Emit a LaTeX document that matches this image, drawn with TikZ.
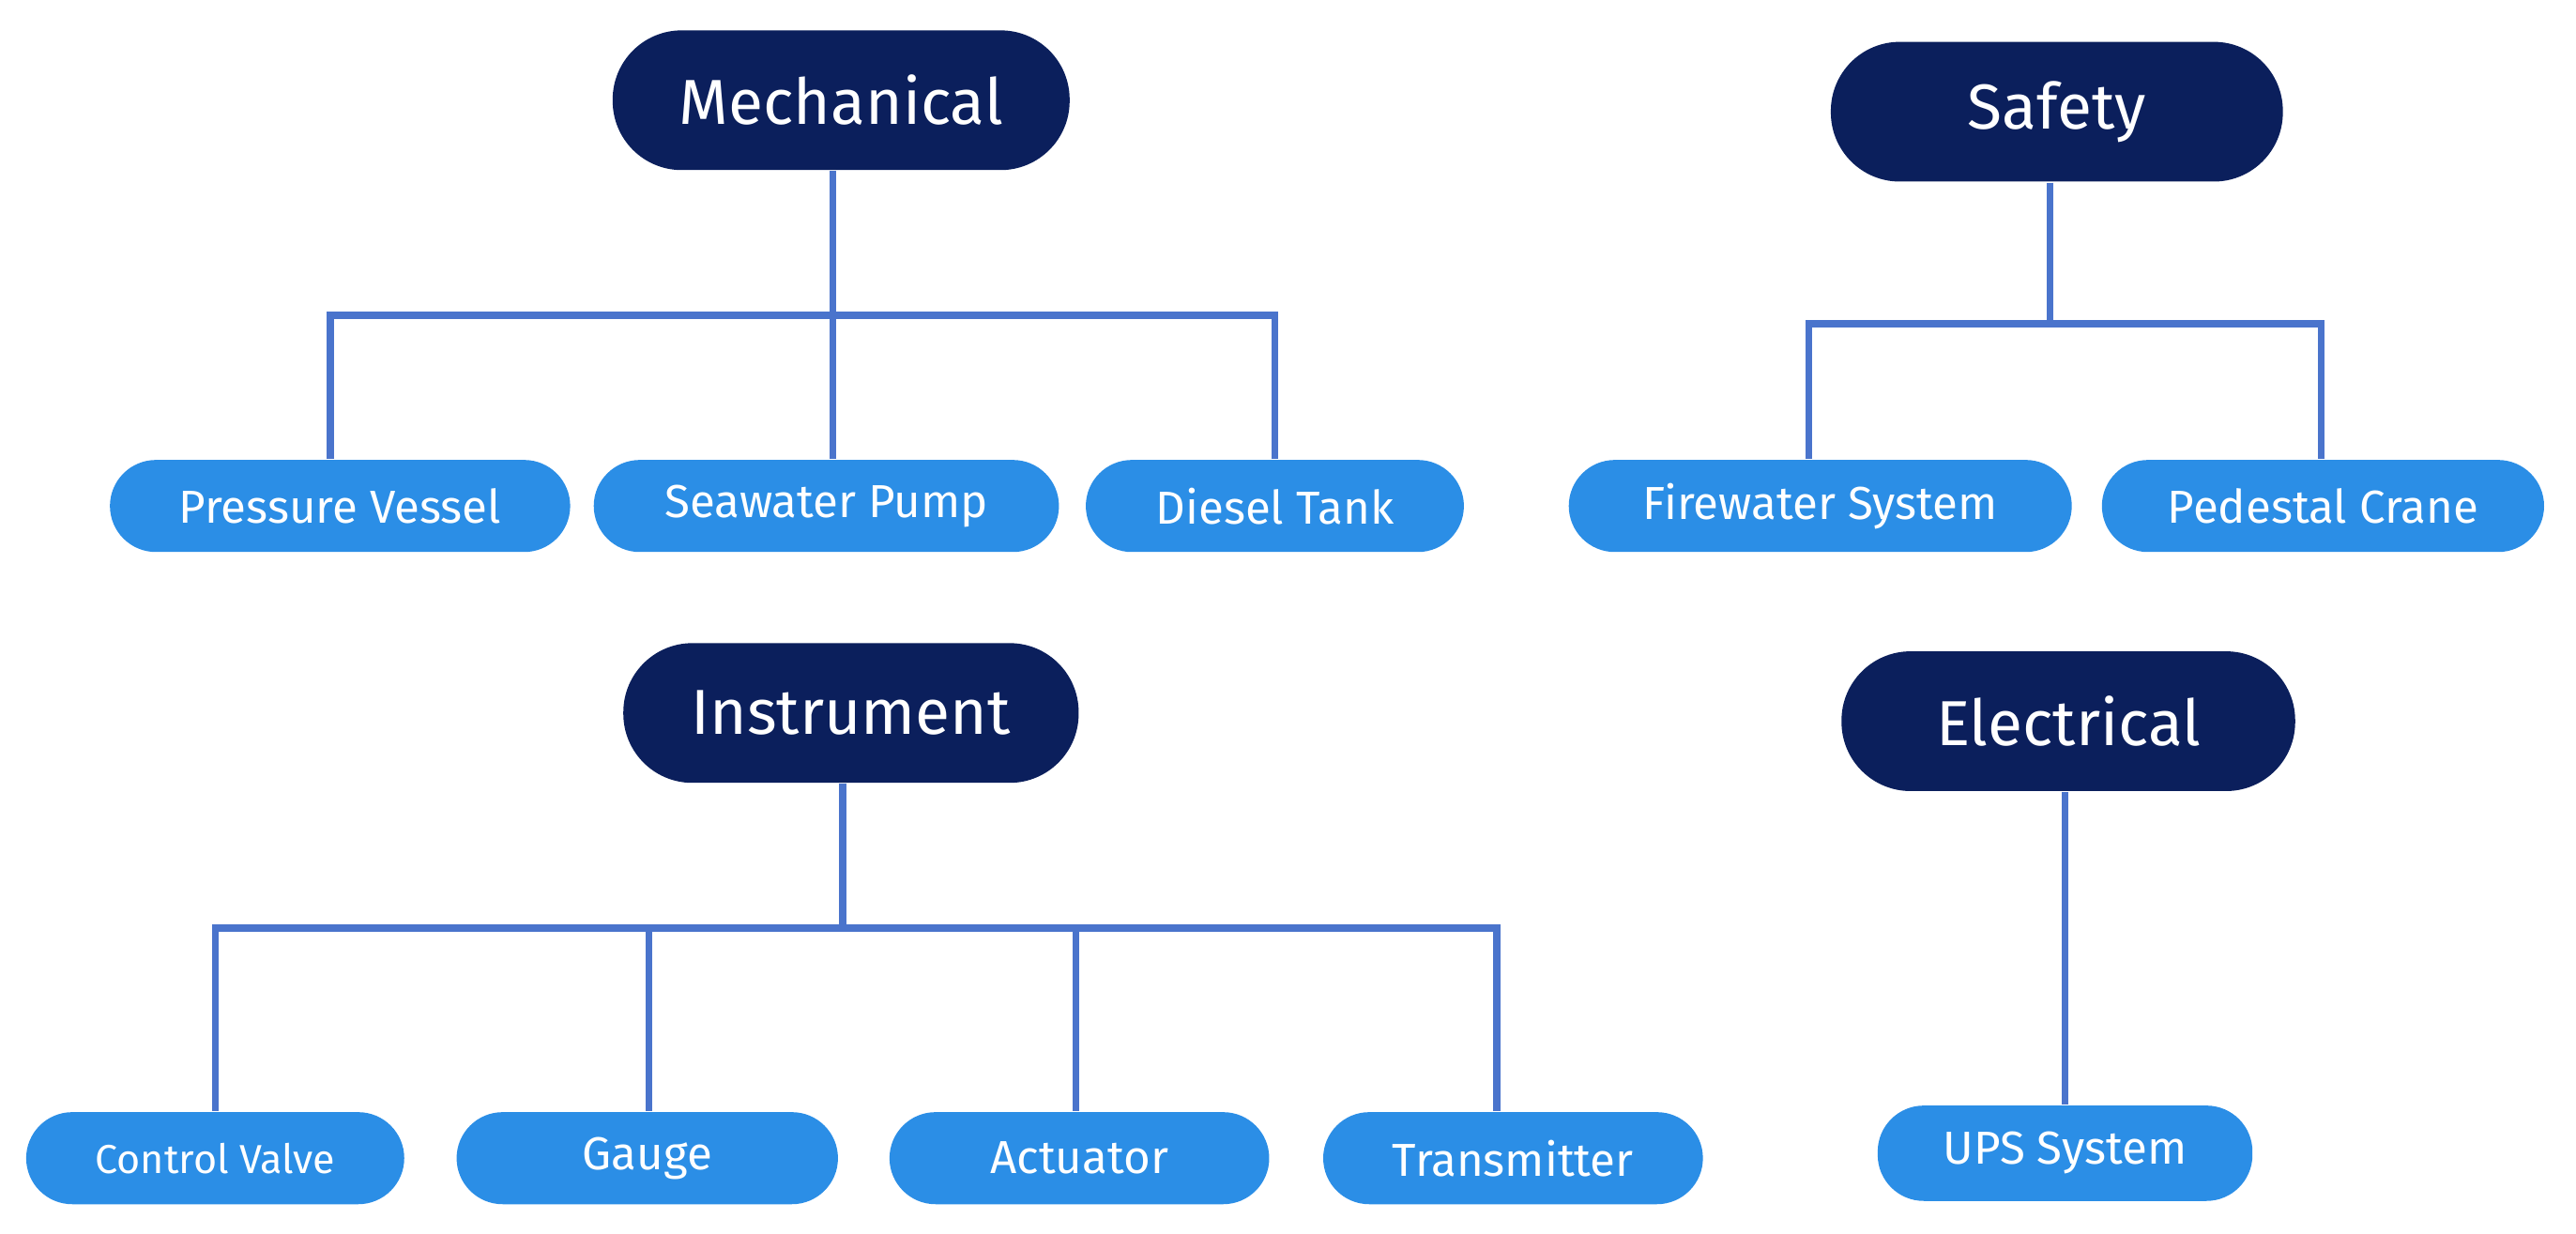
\documentclass[tikz,border=0pt]{standalone}
\usepackage{fontspec}
\setmainfont{Fira Sans}
\definecolor{navy}{HTML}{0B1F5C}
\definecolor{lblue}{HTML}{2B8EE6}
\definecolor{wire}{HTML}{4A74CC}
\begin{document}
\begin{tikzpicture}[x=0.01cm,y=-0.01cm,
  head/.style={rounded corners=0.42cm,fill=navy,text=white,minimum height=0.85cm,font=\fontsize{11}{13}\selectfont,inner sep=0pt},
  leaf/.style={rounded corners=0.28cm,fill=lblue,text=white,minimum height=0.56cm,font=\fontsize{8}{10}\selectfont,inner sep=0pt},
  wl/.style={draw=wire,line width=1.2pt}]
\useasboundingbox (0,0) rectangle (1568,751);
\node[head,minimum width=2.78cm] (mech) at (512,61) {Mechanical};
\node[head,minimum width=2.75cm] (saf) at (1252,68) {Safety};
\node[head,minimum width=2.77cm] (ins) at (518,434) {Instrument};
\node[head,minimum width=2.76cm] (ele) at (1259,439) {Electrical};
\node[leaf,minimum width=2.80cm] (pv) at (207,308) {Pressure Vessel};
\node[leaf,minimum width=2.83cm] (sp) at (503,308) {Seawater Pump};
\node[leaf,minimum width=2.30cm] (dt) at (776,308) {Diesel Tank};
\node[leaf,minimum width=3.06cm] (fs) at (1108,308) {Firewater System};
\node[leaf,minimum width=2.69cm] (pc) at (1414,308) {Pedestal Crane};
\node[leaf,minimum width=2.30cm,font=\fontsize{7}{9}\selectfont] (cv) at (131,705) {Control Valve};
\node[leaf,minimum width=2.32cm] (ga) at (394,705) {Gauge};
\node[leaf,minimum width=2.31cm] (ac) at (657,705) {Actuator};
\node[leaf,minimum width=2.31cm] (tr) at (921,705) {Transmitter};
\node[leaf,minimum width=2.28cm,minimum height=0.58cm] (ups) at (1257,702) {UPS System};
\coordinate (m0) at (507,192);
\draw[wl] (mech.south -| m0) -- (m0);
\draw[wl] (pv.north -| 201,0) |- (m0) -| (dt.north -| 776,0);
\draw[wl] (m0) -- (sp.north -| m0);
\coordinate (s0) at (1248,197);
\draw[wl] (saf.south -| s0) -- (s0);
\draw[wl] (fs.north -| 1101,0) |- (s0) -| (pc.north -| 1413,0);
\coordinate (i0) at (513,565);
\draw[wl] (ins.south -| i0) -- (i0);
\draw[wl] (cv.north -| 131,0) |- (i0) -| (tr.north -| 911,0);
\draw[wl] (ga.north -| 395,0) -- (395,565);
\draw[wl] (ac.north -| 655,0) -- (655,565);
\draw[wl] (ele.south -| 1257,0) -- (ups.north -| 1257,0);
\end{tikzpicture}
\end{document}
